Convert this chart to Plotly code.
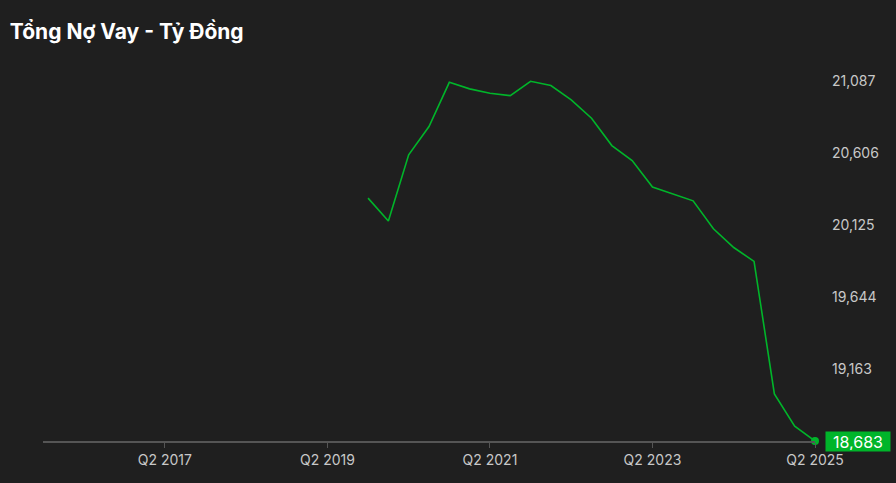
import plotly.graph_objects as go

quarters = [
    'Q4 2019', 'Q1 2020', 'Q2 2020', 'Q3 2020', 'Q4 2020',
    'Q1 2021', 'Q2 2021', 'Q3 2021', 'Q4 2021',
    'Q1 2022', 'Q2 2022', 'Q3 2022', 'Q4 2022',
    'Q1 2023', 'Q2 2023', 'Q3 2023', 'Q4 2023',
    'Q1 2024', 'Q2 2024', 'Q3 2024', 'Q4 2024',
    'Q1 2025', 'Q2 2025',
]
debt = [
    20306, 20153, 20595, 20784, 21080,
    21036, 21007, 20991, 21087,
    21058, 20962, 20840, 20657,
    20557, 20380, 20335, 20288,
    20101, 19976, 19883, 18998,
    18782, 18683,
]
x_tick_labels = ['Q2 2017', 'Q2 2019', 'Q2 2021', 'Q2 2023', 'Q2 2025']
y_tick_values = [19163, 19644, 20125, 20606, 21087]
x_start = 'Q4 2015'


def q_num(label):
    q, year = label.split()
    return int(year) + (int(q[1]) - 1) / 4


x = [q_num(q) for q in quarters]
green = '#00b52a'
bg = '#1f1f1f'
tick_font = dict(family='Inter', size=14, color='#c8c8c8')

fig = go.Figure()
fig.add_trace(go.Scatter(
    x=x, y=debt, mode='lines', line=dict(color=green, width=1.6),
    hoverinfo='skip', showlegend=False, cliponaxis=False,
))
fig.add_trace(go.Scatter(
    x=[x[-1]], y=[debt[-1]], mode='markers', cliponaxis=False,
    marker=dict(color=green, size=8), showlegend=False, hoverinfo='skip',
))

fig.add_annotation(
    x=1, xref='paper', xanchor='left', xshift=10,
    y=debt[-1], yref='y', yanchor='middle',
    text=f'{debt[-1]:,}', showarrow=False,
    font=dict(family='Inter', size=16, color='#ffffff'),
    bgcolor=green, borderpad=1, width=62, height=17,
)

fig.update_layout(
    width=896, height=483,
    paper_bgcolor=bg, plot_bgcolor=bg,
    margin=dict(l=43, r=81, t=60, b=42),
    title=dict(
        text='<b>Tổng Nợ Vay - Tỷ Đồng</b>', x=0.011, xanchor='left',
        y=0.935, yanchor='middle',
        font=dict(family='Inter', size=21, color='#ffffff'),
    ),
    xaxis=dict(
        range=[q_num(x_start), q_num('Q2 2025')],
        tickvals=[q_num(t) for t in x_tick_labels], ticktext=x_tick_labels,
        showgrid=False, zeroline=False,
        showline=True, linecolor='#555555', linewidth=1.5,
        ticks='outside', ticklen=5, tickcolor='#555555',
        tickfont=tick_font,
    ),
    yaxis=dict(
        side='right', range=[18683, 21229],
        tickvals=y_tick_values, ticktext=[f'{v:,}' for v in y_tick_values],
        showgrid=False, zeroline=False, showline=False,
        ticks='', ticklabelstandoff=16,
        tickfont=tick_font,
    ),
)

fig.write_html(
    'out.html',
    config={'displayModeBar': False},
    post_script="document.body.style.margin='0';document.body.style.background='#1f1f1f';",
)
